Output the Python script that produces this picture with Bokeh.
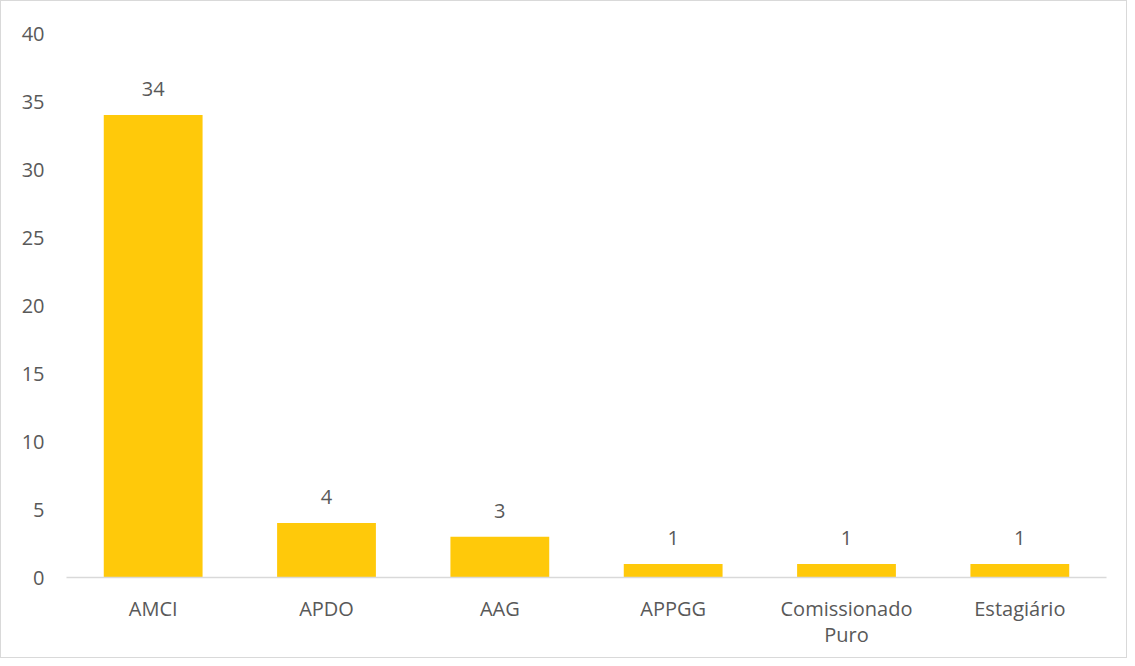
from bokeh.plotting import figure
from bokeh.models import ColumnDataSource, Range1d, FixedTicker
from bokeh.core.properties import value
from bokeh.embed import file_html
from bokeh.resources import INLINE

categories = ["AMCI", "APDO", "AAG", "APPGG", "Comissionado\nPuro", "Estagiário"]
values = [34, 4, 3, 1, 1, 1]
y_ticks = [0, 5, 10, 15, 20, 25, 30, 35, 40]

FONT = "Open Sans"
TXT = "#595959"
GRID = "#D9D9D9"
BAR = "#FFC90A"

xs = list(range(len(categories)))
src = ColumnDataSource(dict(x=xs, val=values, lab=[str(v) for v in values]))

p = figure(
    x_range=Range1d(-0.5, len(categories) - 0.5),
    y_range=Range1d(0, 40),
    width=1127, height=658,
    output_backend="svg", toolbar_location=None,
    min_border_left=65, min_border_right=22, min_border_top=32, min_border_bottom=82,
)
p.styles = {"border": "1px solid #D9D9D9"}
p.outline_line_color = None
p.xgrid.grid_line_color = None
p.ygrid.grid_line_color = None

p.vbar(x="x", top="val", width=0.57, source=src, fill_color=BAR, line_color=None)
p.text(x="x", y="val", text="lab", source=src, text_align="center",
       text_baseline="alphabetic", y_offset=-26, text_color=TXT,
       text_font=value(FONT), text_font_size="20px")

p.yaxis.ticker = FixedTicker(ticks=y_ticks)
p.yaxis.axis_line_color = None
p.yaxis.major_tick_line_color = None
p.yaxis.minor_tick_line_color = None
p.yaxis.major_tick_out = 0
p.yaxis.major_label_standoff = 22
p.yaxis.major_label_text_color = TXT
p.yaxis.major_label_text_font = FONT
p.yaxis.major_label_text_font_size = "20px"

p.xaxis.ticker = FixedTicker(ticks=xs)
p.xaxis.major_label_overrides = {i: c for i, c in zip(xs, categories)}
p.xaxis.axis_line_color = GRID
p.xaxis.axis_line_width = 1.5
p.xaxis.major_tick_line_color = None
p.xaxis.minor_tick_line_color = None
p.xaxis.major_tick_out = 0
p.xaxis.major_label_standoff = 17
p.xaxis.major_label_text_color = TXT
p.xaxis.major_label_text_font = FONT
p.xaxis.major_label_text_font_size = "20px"
p.xaxis.major_label_text_line_height = 0.97

open("out.html", "w").write(file_html(p, INLINE))
